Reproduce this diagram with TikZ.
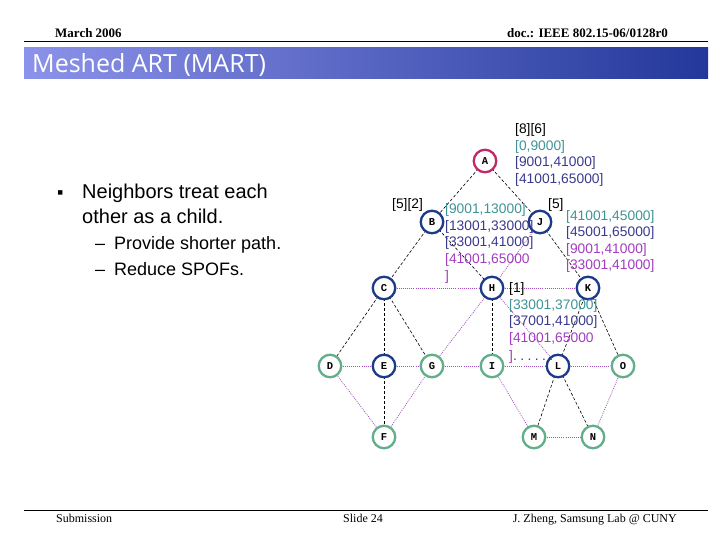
\documentclass[tikz,border=0pt]{standalone}
\usepackage{fontspec}
\setmainfont{Liberation Sans}
\newfontfamily\timesf{Liberation Serif}
\newfontfamily\monof{Liberation Mono}
\newfontfamily\titlef{Open Sans}
\definecolor{nodered}{HTML}{C02868}
\definecolor{nodeblue}{HTML}{1C3A8C}
\definecolor{nodegreen}{HTML}{62AE88}
\definecolor{tealtxt}{HTML}{3F9496}
\definecolor{indigotxt}{HTML}{3A3A8C}
\definecolor{magtxt}{HTML}{A23CC0}
\definecolor{dotline}{HTML}{A050C0}
\definecolor{bannerL}{HTML}{8C92EA}
\definecolor{bannerR}{HTML}{23389A}
\begin{document}
\begin{tikzpicture}[x=1pt,y=-1pt,
  netnode/.style={circle,draw,line width=2.3pt,minimum size=22.5pt,inner sep=0pt,fill=white,font=\monof\bfseries\fontsize{10.5}{11}\selectfont},
  rednode/.style={netnode,draw=nodered},
  bluenode/.style={netnode,draw=nodeblue},
  greennode/.style={netnode,draw=nodegreen},
  treeedge/.style={draw=black,line width=0.6pt,dash pattern=on 3pt off 2pt},
  meshedge/.style={draw=dotline,line width=0.7pt,dash pattern=on 1pt off 1.1pt},
  lbl/.style={anchor=base west,inner sep=0pt,font=\fontsize{13.8}{16}\selectfont},
  bigtxt/.style={anchor=base west,inner sep=0pt,font=\fontsize{20}{24}\selectfont},
  subtxt/.style={anchor=base west,inner sep=0pt,font=\fontsize{18}{22}\selectfont},
  hdr/.style={inner sep=0pt,font=\timesf\bfseries\fontsize{13}{15}\selectfont},
  ftr/.style={inner sep=0pt,font=\timesf\fontsize{12}{14}\selectfont}
]
\useasboundingbox (0,0) rectangle (720,540);
\fill[white] (0,0) rectangle (720,540);

% header
\node[hdr,anchor=base west] (date) at (55,38) {March 2006};
\node[hdr,anchor=base east] (doc) at (668,38) {doc.: IEEE 802.15-06/0128r0};
\draw[line width=1pt] (24,42) -- (708,42);
\shade[left color=bannerL,right color=bannerR] (24,48) rectangle (708,79);
\node[anchor=base west,inner sep=0pt,text=white,font=\titlef\fontsize{25}{28}\selectfont] (title) at (32,73) {Meshed ART (MART)};

% footer
\draw[line width=1pt] (24,510) -- (708,510);
\node[ftr,anchor=base west] (sub) at (56,522) {Submission};
\node[ftr,anchor=base west] (slide) at (343,522) {Slide 24};
\node[ftr,anchor=base east] (auth) at (677,522) {J. Zheng, Samsung Lab @ CUNY};

% bullet text
\node[subtxt] (bul) at (57,199) {▪};
\node[bigtxt] (t1) at (82,199) {Neighbors treat each};
\node[bigtxt] (t2) at (82,223) {other as a child.};
\node[subtxt] (d1) at (95,249) {–};
\node[subtxt] (s1) at (114,249) {Provide shorter path.};
\node[subtxt] (d2) at (95,275) {–};
\node[subtxt] (s2) at (114,275) {Reduce SPOFs.};

% network node coordinates
\coordinate (pA) at (485,161);
\coordinate (pB) at (432,222);
\coordinate (pJ) at (540,222);
\coordinate (pC) at (384,288);
\coordinate (pH) at (492,288);
\coordinate (pK) at (588,288);
\coordinate (pD) at (330,366);
\coordinate (pE) at (384,366);
\coordinate (pG) at (432,366);
\coordinate (pI) at (492,366);
\coordinate (pL) at (558,366);
\coordinate (pO) at (623,366);
\coordinate (pF) at (384,437);
\coordinate (pM) at (534,437);
\coordinate (pN) at (593,437);

% edges
\draw[treeedge] (pA) -- (pB);
\draw[treeedge] (pA) -- (pJ);
\draw[treeedge] (pB) -- (pC);
\draw[treeedge] (pB) -- (pH);
\draw[treeedge] (pJ) -- (pK);
\draw[treeedge] (pC) -- (pD);
\draw[treeedge] (pC) -- (pE);
\draw[treeedge] (pC) -- (pG);
\draw[treeedge] (pH) -- (pI);
\draw[treeedge] (pE) -- (pF);
\draw[treeedge] (pK) -- (pL);
\draw[treeedge] (pK) -- (pO);
\draw[treeedge] (pL) -- (pM);
\draw[treeedge] (pL) -- (pN);

\draw[meshedge] (pJ) -- (pH);
\draw[meshedge] (pC) -- (pH);
\draw[meshedge] (pH) -- (pK);
\draw[meshedge] (pG) -- (pH);
\draw[meshedge] (pH) -- (pL);
\draw[meshedge] (pD) -- (pE);
\draw[meshedge] (pE) -- (pG);
\draw[meshedge] (pG) -- (pI);
\draw[meshedge] (pI) -- (pL);
\draw[meshedge] (pL) -- (pO);
\draw[meshedge] (pD) -- (pF);
\draw[meshedge] (pF) -- (pG);
\draw[meshedge] (pI) -- (pM);
\draw[meshedge] (pM) -- (pN);
\draw[meshedge] (pN) -- (pO);

% nodes
\node[rednode] (A) at (pA) {A};
\node[bluenode] (B) at (pB) {B};
\node[bluenode] (J) at (pJ) {J};
\node[bluenode] (C) at (pC) {C};
\node[bluenode] (H) at (pH) {H};
\node[bluenode] (K) at (pK) {K};
\node[greennode] (D) at (pD) {D};
\node[bluenode] (E) at (pE) {E};
\node[greennode] (G) at (pG) {G};
\node[greennode] (I) at (pI) {I};
\node[bluenode] (L) at (pL) {L};
\node[greennode] (O) at (pO) {O};
\node[greennode] (F) at (pF) {F};
\node[greennode] (M) at (pM) {M};
\node[greennode] (N) at (pN) {N};

% labels at A
\node[lbl] (a0) at (515,133.6) {[8][6]};
\node[lbl,text=tealtxt] (a1) at (515,150.3) {[0,9000]};
\node[lbl,text=indigotxt] (a2) at (515,167) {[9001,41000]};
\node[lbl,text=indigotxt] (a3) at (515,183.7) {[41001,65000]};

% labels at B
\node[lbl] (b0) at (392,208) {[5][2]};
\node[lbl,text=tealtxt] (b1) at (445,213.6) {[9001,13000]};
\node[lbl,text=indigotxt] (b2) at (445,230.2) {[13001,33000]};
\node[lbl,text=indigotxt] (b3) at (445,246.8) {[33001,41000]};
\node[lbl,text=magtxt] (b4) at (445,263.4) {[41001,65000};
\node[lbl,text=magtxt] (b5) at (445,280) {]};

% labels at J
\node[lbl] (j0) at (548,208.6) {[5]};
\node[lbl,text=tealtxt] (j1) at (566,220.6) {[41001,45000]};
\node[lbl,text=indigotxt] (j2) at (566,236.8) {[45001,65000]};
\node[lbl,text=magtxt] (j3) at (566,253) {[9001,41000]};
\node[lbl,text=magtxt] (j4) at (566,269.2) {[33001,41000]};

% labels at H
\node[lbl] (h0) at (509,292.6) {[1]};
\node[lbl,text=tealtxt] (h1) at (509,309.2) {[33001,37000]};
\node[lbl,text=indigotxt] (h2) at (509,325.9) {[37001,41000]};
\node[lbl,text=magtxt] (h3) at (509,342.6) {[41001,65000};
\node[lbl] (h4) at (509,360) {\textcolor{magtxt}{]}\textcolor{indigotxt}{\addfontfeature{LetterSpace=25}......}};
\end{tikzpicture}
\end{document}
